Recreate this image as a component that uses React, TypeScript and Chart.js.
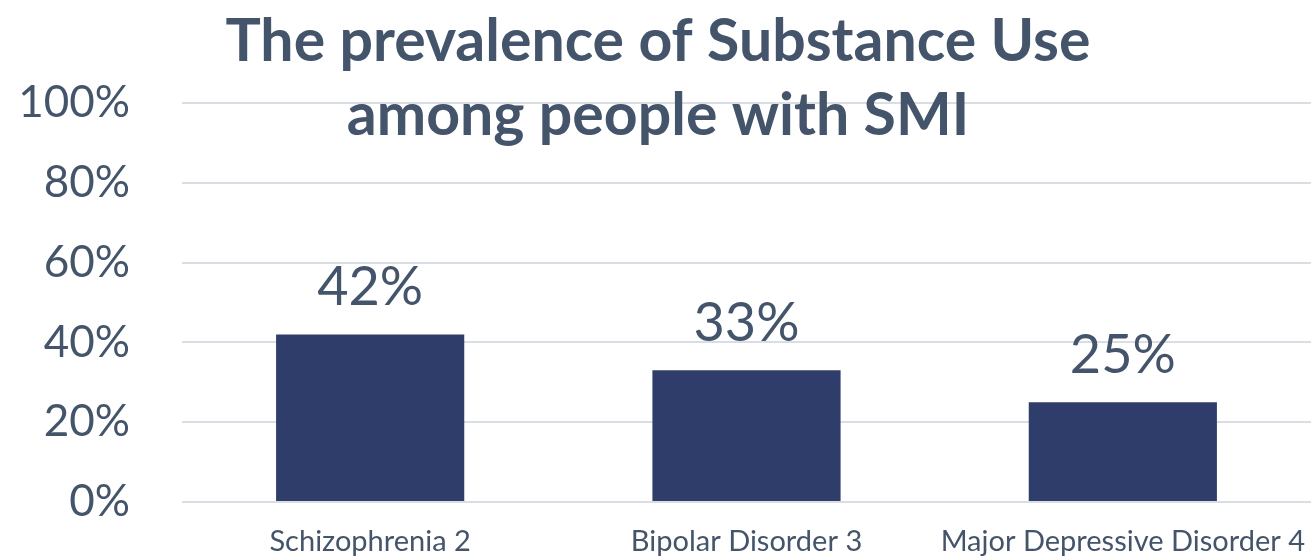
import React, { useEffect, useRef } from "react";
import { Chart, registerables } from "chart.js";

Chart.register(...registerables);

const categories = ["Schizophrenia 2", "Bipolar Disorder 3", "Major Depressive Disorder 4"];
const values = [42, 33, 25];
const yTicks = [0, 20, 40, 60, 80, 100];
const titleLines = ["The prevalence of Substance Use", "among people with SMI"];

const TEXT = "#44546A";
const BAR = "#2E3D6A";
const GRID = "#D9DEE4";
const FONT = "Lato, 'Open Sans', sans-serif";

export default function App() {
  const ref = useRef<HTMLCanvasElement | null>(null);

  useEffect(() => {
    if (!ref.current) return;
    const labelPlugin = {
      id: "labelsAndTitle",
      afterDraw(chart: any) {
        const ctx = chart.ctx;
        ctx.save();
        const meta = chart.getDatasetMeta(0);
        ctx.fillStyle = TEXT;
        ctx.textAlign = "center";
        ctx.textBaseline = "alphabetic";
        ctx.font = `400 54px ${FONT}`;
        meta.data.forEach((bar: any, i: number) => {
          ctx.fillText(`${values[i]}%`, bar.x, bar.y - 29);
        });
        ctx.font = `700 59px ${FONT}`;
        ctx.fillText(titleLines[0], 658, 61);
        ctx.fillText(titleLines[1], 658, 135);
        ctx.restore();
      },
    };
    const chart = new Chart(ref.current, {
      type: "bar",
      data: {
        labels: categories,
        datasets: [
          {
            data: values,
            backgroundColor: BAR,
            categoryPercentage: 1,
            barPercentage: 0.5,
          },
        ],
      },
      options: {
        animation: false,
        responsive: false,
        maintainAspectRatio: false,
        layout: { padding: { top: 103, right: 0, left: 0, bottom: 0 } },
        plugins: { legend: { display: false }, title: { display: false }, tooltip: { enabled: false } },
        scales: {
          x: {
            grid: { display: false, drawTicks: false },
            border: { display: false },
            ticks: { color: TEXT, font: { family: FONT, size: 29 }, padding: 22, maxRotation: 0, autoSkip: false },
            afterFit(scale: any) {
              scale.height = 55;
              scale.paddingLeft = 0;
              scale.paddingRight = 0;
            },
          },
          y: {
            min: 0,
            max: 100,
            afterBuildTicks(scale: any) {
              scale.ticks = yTicks.map((v) => ({ value: v }));
            },
            grid: { color: GRID, lineWidth: 2, drawTicks: false },
            border: { display: false },
            ticks: {
              color: TEXT,
              font: { family: FONT, size: 44 },
              padding: 52,
              callback: (v: any) => `${v}%`,
            },
            afterFit(scale: any) {
              scale.width = 182;
              scale.paddingTop = 0;
              scale.paddingBottom = 0;
            },
          },
        },
      },
      plugins: [labelPlugin],
    });
    return () => chart.destroy();
  }, []);

  return (
    <div style={{ position: "fixed", left: 0, top: 0, width: 1311, height: 557, background: "#fff" }}>
      <canvas ref={ref} width={1311} height={557} style={{ width: 1311, height: 557, display: "block" }} />
    </div>
  );
}
